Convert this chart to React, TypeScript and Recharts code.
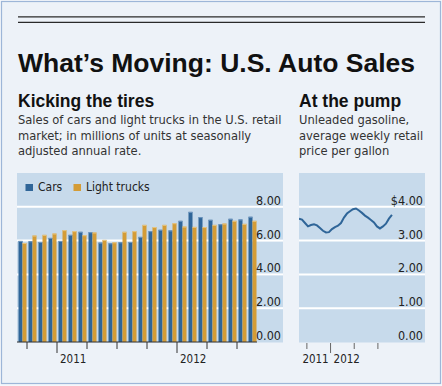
import { BarChart, Bar, LineChart, Line, XAxis, YAxis, CartesianGrid } from "recharts";

// Monthly U.S. retail sales, millions of units (SAAR), Sep 2010 - Aug 2012
const months = [
  "Sep 2010", "Oct 2010", "Nov 2010", "Dec 2010",
  "Jan 2011", "Feb 2011", "Mar 2011", "Apr 2011", "May 2011", "Jun 2011",
  "Jul 2011", "Aug 2011", "Sep 2011", "Oct 2011", "Nov 2011", "Dec 2011",
  "Jan 2012", "Feb 2012", "Mar 2012", "Apr 2012", "May 2012", "Jun 2012",
  "Jul 2012", "Aug 2012",
];
const cars = [
  5.98, 5.96, 5.92, 6.16, 5.98, 6.34, 6.52, 6.5, 5.88, 5.84, 5.9, 5.92,
  6.22, 6.56, 6.64, 6.6, 7.17, 7.7, 7.39, 7.23, 6.97, 7.29, 7.25, 7.41,
];
const lightTrucks = [
  5.86, 6.3, 6.34, 6.42, 6.62, 6.56, 6.32, 6.48, 6.04, 5.9, 6.52, 6.56,
  6.93, 6.8, 6.93, 7.03, 6.83, 6.81, 6.8, 6.93, 7.01, 7.17, 6.99, 7.17,
];
const salesTicks = [0, 2, 4, 6, 8];

// Unleaded gasoline, average retail price per gallon, late Aug 2011 - mid Aug 2012
const gasStartMonth = 8; // months after Jan 2011
const gasStepMonths = 0.38;
const gasPrices = [
  3.65, 3.62, 3.52, 3.42, 3.46, 3.48, 3.45, 3.37, 3.29, 3.24, 3.25, 3.34,
  3.4, 3.44, 3.52, 3.68, 3.8, 3.87, 3.93, 3.95, 3.89, 3.82, 3.74, 3.68,
  3.61, 3.54, 3.42, 3.36, 3.42, 3.5, 3.65, 3.76,
];
const gasTicks = [0, 1, 2, 3, 4];
const gasMonthTicks = [9, 12, 15, 18];

const salesData = months.map((m, i) => ({ month: m, cars: cars[i], trucks: lightTrucks[i] }));
const gasData = gasPrices.map((p, i) => ({ month: gasStartMonth + i * gasStepMonths, price: p }));

const BLUE = "#2f6598";
const GOLD = "#d49c36";
const PANEL = "#c7daeb";
const NARROW = "'Liberation Sans Narrow', 'DejaVu Sans Condensed', 'Liberation Sans', sans-serif";
const BOLD = "'Liberation Sans', Arial, sans-serif";
const BAND = 240 / months.length;

// bar with a slightly lighter cap, as in the print graphic
const CappedBar = (props: any) => {
  const { x, y, width, height, fill, cap } = props;
  return (
    <g>
      <rect x={x} y={y} width={width} height={height} fill={fill} />
      <rect x={x} y={y} width={width} height={1} fill={cap} />
    </g>
  );
};

const ValueTick = (props: any) => {
  const { x, y, payload, dollar } = props;
  const label = dollar && payload.value === 4 ? "$4.00" : Number(payload.value).toFixed(2);
  return (
    <g>
      {payload.value !== 0 && <line x1={x} x2={x + 26} y1={y} y2={y} stroke="#fff" strokeWidth={2} />}
      <text x={x + 24} y={y - 2} textAnchor="end" fontSize={12.5} fontFamily={NARROW} fill="#222">
        {label}
      </text>
    </g>
  );
};

const MonthTick = (props: any) => {
  const { x, y, payload } = props;
  const [mon, yr] = String(payload.value).split(" ");
  const isYearEnd = mon === "Dec";
  const tx = x + BAND / 2;
  return (
    <g>
      <line x1={tx} x2={tx} y1={y} y2={y + (isYearEnd ? 11 : 7)} stroke="#333" strokeWidth={1} />
      {isYearEnd && (
        <text x={tx + 3} y={y + 21} fontSize={11.5} fontFamily={NARROW} fill="#222">
          {Number(yr) + 1}
        </text>
      )}
    </g>
  );
};

const GasTick = (props: any) => {
  const { x, y, payload } = props;
  const isYear = payload.value === 12;
  return (
    <g>
      <line x1={x} x2={x} y1={y + 1} y2={y + (isYear ? 11 : 7)} stroke="#666" strokeWidth={1} />
      {isYear && (
        <text x={x + 3} y={y + 21} fontSize={11.5} fontFamily={NARROW} fill="#222">2012</text>
      )}
      {payload.value === gasMonthTicks[0] && (
        <text x={x - 4.5} y={y + 21} fontSize={11.5} fontFamily={NARROW} fill="#222">2011</text>
      )}
    </g>
  );
};

export default function App() {
  return (
    <div style={{ position: "absolute", left: 0, top: 0, width: 442, height: 386, background: "#f4f7fb" }}>
      <svg width={442} height={386} style={{ position: "absolute", left: 0, top: 0 }}>
        <rect x={1.5} y={1.5} width={439} height={382} fill="#edf2f8" stroke="#9db6d8" strokeWidth={1.2} />
        <line x1={18} x2={425} y1={16.8} y2={16.8} stroke="#2a2a2a" strokeWidth={1.3} />
        <line x1={18} x2={425} y1={22.3} y2={22.3} stroke="#2a2a2a" strokeWidth={1.3} />
        <text x={18} y={72} fontSize={26.5} fontWeight="bold" fontFamily={BOLD} fill="#111">
          What’s Moving: U.S. Auto Sales
        </text>
        <text x={18} y={106.5} fontSize={17.5} fontWeight="bold" fontFamily={BOLD} fill="#111">
          Kicking the tires
        </text>
        <text x={299} y={106.5} fontSize={17.5} fontWeight="bold" fontFamily={BOLD} fill="#111">
          At the pump
        </text>
        <g fontSize={12.8} fontFamily={NARROW} fill="#333">
          <text x={18} y={124}>Sales of cars and light trucks in the U.S. retail</text>
          <text x={18} y={139.5}>market; in millions of units at seasonally</text>
          <text x={18} y={154.5}>adjusted annual rate.</text>
          <text x={299} y={124}>Unleaded gasoline,</text>
          <text x={299} y={139.5}>average weekly retail</text>
          <text x={299} y={154.5}>price per gallon</text>
        </g>
        <rect x={17} y={173} width={266} height={169.5} fill={PANEL} />
        <rect x={299} y={173} width={126} height={169.5} fill={PANEL} />
        <rect x={25.5} y={184} width={7.5} height={7} fill={BLUE} />
        <text x={38} y={191} fontSize={12} fontFamily={NARROW} fill="#222">Cars</text>
        <rect x={73.5} y={184} width={7.5} height={7} fill={GOLD} />
        <text x={86} y={191} fontSize={12} fontFamily={NARROW} fill="#222">Light trucks</text>
      </svg>

      <div style={{ position: "absolute", left: 17, top: 173 }}>
        <BarChart
          width={266}
          height={200}
          data={salesData}
          margin={{ top: 0, right: 0, bottom: 0, left: 0 }}
          barGap={0}
          barCategoryGap={1.5}
        >
          <CartesianGrid vertical={false} stroke="#fff" strokeWidth={2} horizontalValues={[2, 4, 6, 8]} />
          <XAxis
            dataKey="month"
            interval={2}
            height={31}
            tickLine={false}
            tickSize={0}
            tickMargin={0}
            axisLine={{ stroke: "#333", strokeWidth: 1 }}
            tick={<MonthTick />}
          />
          <YAxis
            orientation="right"
            width={26}
            domain={[0, 10]}
            ticks={salesTicks}
            axisLine={false}
            tickLine={false}
            tickSize={0}
            tickMargin={0}
            tick={<ValueTick />}
          />
          <Bar dataKey="cars" fill={BLUE} shape={<CappedBar cap="#7097c0" />} isAnimationActive={false} />
          <Bar dataKey="trucks" fill={GOLD} shape={<CappedBar cap="#e6c685" />} isAnimationActive={false} />
        </BarChart>
      </div>

      <div style={{ position: "absolute", left: 299, top: 173 }}>
        <LineChart width={126} height={200} data={gasData} margin={{ top: 0, right: 0, bottom: 0, left: 0 }}>
          <CartesianGrid vertical={false} stroke="#fff" strokeWidth={2} horizontalValues={[1, 2, 3, 4]} />
          <XAxis
            type="number"
            dataKey="month"
            domain={[8, 8 + 100 / 7.89]}
            ticks={gasMonthTicks}
            allowDataOverflow
            height={31}
            axisLine={false}
            tickLine={false}
            tickSize={0}
            tickMargin={0}
            tick={<GasTick />}
          />
          <YAxis
            orientation="right"
            width={26}
            domain={[0, 5]}
            ticks={gasTicks}
            axisLine={false}
            tickLine={false}
            tickSize={0}
            tickMargin={0}
            tick={<ValueTick dollar />}
          />
          <Line dataKey="price" stroke={BLUE} strokeWidth={2} dot={false} isAnimationActive={false} />
        </LineChart>
      </div>
    </div>
  );
}
